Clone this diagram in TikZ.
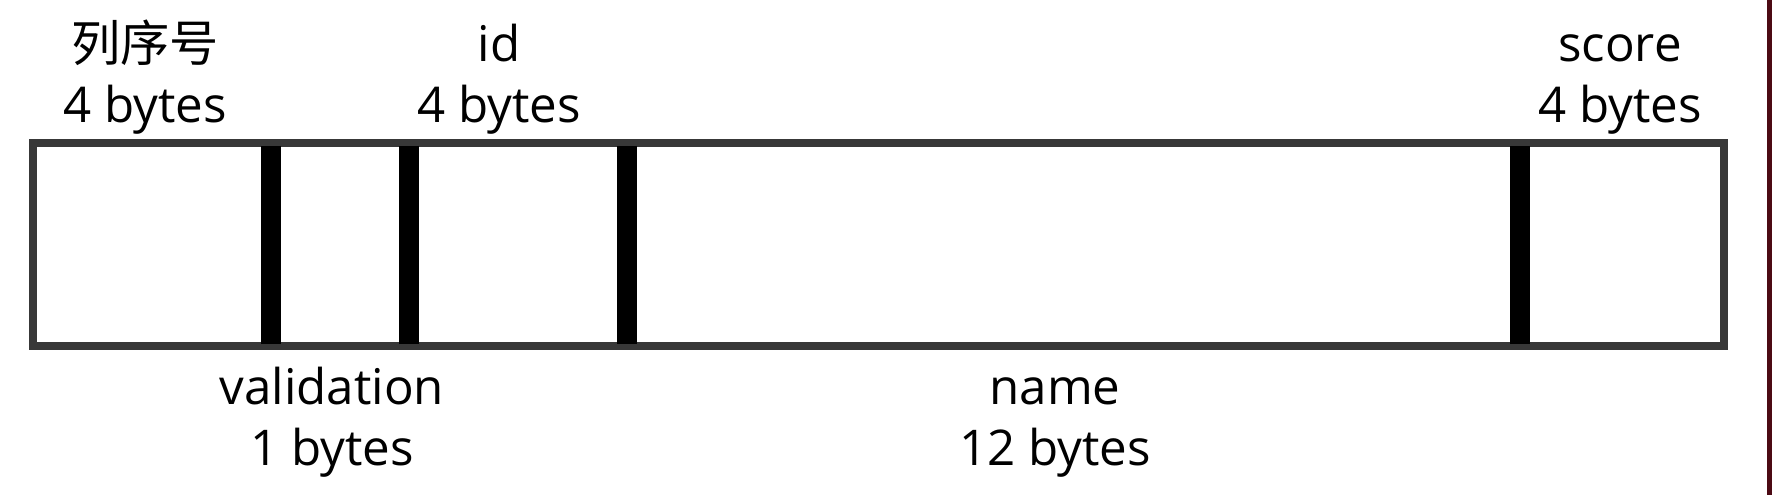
\documentclass[tikz,border=0pt]{standalone}
\usepackage{fontspec}
\setmainfont{Open Sans}
\newfontfamily\cjk{Noto Sans CJK SC}
\definecolor{FrameClr}{rgb}{0.22,0.22,0.22}
\definecolor{EdgeClr}{rgb}{0.3,0.04,0.08}

\begin{document}
\begin{tikzpicture}[x=0.01cm,y=-0.01cm]
\tikzset{
  frame/.style={draw=FrameClr,line width=8*0.2845pt},
  divider/.style={black,line width=20*0.2845pt},
  fieldlabel/.style={align=center,inner sep=0pt,font=\fontsize{14}{17.5}\selectfont}
}
\useasboundingbox[fill=white] (0,0) rectangle (1772,495);

% record frame
\coordinate (TL) at (33,143.5);
\coordinate (BR) at (1724,346);
\draw[frame] (TL) rectangle (BR);

% field borders
\foreach \x/\name in {271/d1,409/d2,627/d3,1520/d4}{
  \coordinate (\name t) at (\x,146);
  \coordinate (\name b) at (\x,344);
  \draw[divider] (\name t) -- (\name b);
}

% labels above
\node[fieldlabel] (seq) at (145,79.5) {{\cjk 列序号}\strut\\4 bytes\strut};
\node[fieldlabel] (id) at (499,79.5) {id\strut\\4 bytes\strut};
\node[fieldlabel] (score) at (1620,79.5) {score\strut\\4 bytes\strut};

% labels below
\node[fieldlabel] (valid) at (332,422.5) {validation\strut\\1 bytes\strut};
\node[fieldlabel] (name) at (1055,422.5) {name\strut\\12 bytes\strut};

% edge strip
\fill[EdgeClr] (1767,0) rectangle (1772,495);

\end{tikzpicture}
\end{document}
